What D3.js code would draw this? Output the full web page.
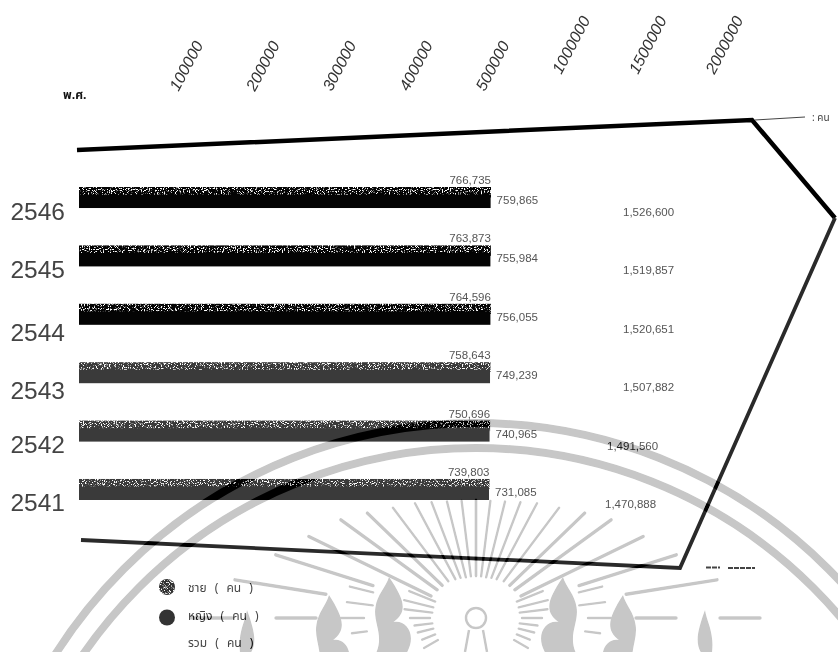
<!DOCTYPE html>
<html>
<head>
<meta charset="utf-8">
<script src="https://cdn.jsdelivr.net/npm/d3@7"></script>
<style>
html, body { margin: 0; padding: 0; background: #fff; }
text { font-family: "Liberation Sans", Arial, sans-serif; }
.thai { font-family: "Noto Sans Thai", "Noto Sans", "DejaVu Sans", sans-serif; }
</style>
</head>
<body>
<svg id="chart" width="838" height="652"></svg>
<script>
// values, top row first
const years = ["2546", "2545", "2544", "2543", "2542", "2541"];
const male = [766735, 763873, 764596, 758643, 750696, 739803];
const female = [759865, 755984, 756055, 749239, 740965, 731085];
const total = [1526600, 1519857, 1520651, 1507882, 1491560, 1470888];
const axisLabels = ["100000", "200000", "300000", "400000", "500000", "1000000", "1500000", "2000000"];
const legendLabels = ["ชาย ( คน )", "หญิง ( คน )", "รวม ( คน )"];

// year labels are not quite level with their bars in the original
const yearNudge = [14, 14, 19, 18, 14, 14];

const svg = d3.select("#chart");
const defs = svg.append("defs");

// speckled fill for the male bars
const speckle = defs.append("filter").attr("id", "speckle")
    .attr("x", 0).attr("y", 0).attr("width", 1).attr("height", 1)
    .attr("color-interpolation-filters", "sRGB");
speckle.append("feTurbulence")
    .attr("type", "fractalNoise").attr("baseFrequency", 0.85)
    .attr("numOctaves", 2).attr("seed", 4).attr("result", "noise");
speckle.append("feColorMatrix").attr("in", "noise").attr("type", "matrix")
    .attr("values", "0 0 0 0 0  0 0 0 0 0  0 0 0 0 0  9 0 0 0 -3.1").attr("result", "holes");
speckle.append("feComposite")
    .attr("in", "SourceGraphic").attr("in2", "holes").attr("operator", "in").attr("result", "dots");
speckle.append("feGaussianBlur").attr("in", "dots").attr("stdDeviation", 0.35);

// background seal, used twice: once under the chart, once burned over it.
// everything is currentColor so the two copies can differ
const seal = defs.append("g").attr("id", "seal");
const cx = 476, cy = 618;

seal.append("circle").attr("cx", cx).attr("cy", 921).attr("r", 498)
    .attr("fill", "none").attr("stroke", "currentColor").attr("stroke-width", 8);
seal.append("circle").attr("cx", cx).attr("cy", 925).attr("r", 477)
    .attr("fill", "none").attr("stroke", "currentColor").attr("stroke-width", 8);

// [angle from straight up, inner radius, outer radius]
const rays = [
    [0, 42, 118], [7, 42, 118], [14, 42, 120], [21, 43, 124], [28, 44, 130], [37, 46, 138],
    [46, 47, 151], [54, 48, 167], [64, 50, 186], [72.5, 108, 210], [81, 152, 244],
    [68, 44, 72], [76, 44, 74], [83, 44, 72], [90, 46, 66], [97, 44, 62], [104, 44, 60],
    [112, 44, 58], [120, 44, 60],
    [76, 106, 130], [83, 104, 130], [90, 112, 135], [90, 160, 200], [90, 244, 284], [97, 110, 125]
];
[1, -1].forEach(side => {
    seal.append("g").selectAll("line").data(rays).join("line")
        .attr("x1", d => cx + side * d[1] * Math.sin(d[0] * Math.PI / 180))
        .attr("y1", d => cy - d[1] * Math.cos(d[0] * Math.PI / 180))
        .attr("x2", d => cx + side * d[2] * Math.sin(d[0] * Math.PI / 180))
        .attr("y2", d => cy - d[2] * Math.cos(d[0] * Math.PI / 180))
        .attr("stroke", "currentColor").attr("stroke-linecap", "round")
        .attr("stroke-width", d => d[2] > 150 ? 3.4 : 2.4);

    // flames either side of the sun
    const flame = (dx, top, w) => `M${cx + side * dx},${top}
        C${cx + side * (dx - w)},${top + 22} ${cx + side * (dx - w * 1.3)},${top + 34} ${cx + side * (dx - w * 0.3)},${top + 45}
        C${cx + side * (dx - w * 1.2)},${top + 42} ${cx + side * (dx - w * 2)},${top + 60} ${cx + side * (dx - w)},${top + 80}
        L${cx + side * (dx + w)},${top + 80}
        C${cx + side * (dx + w * 0.2)},${top + 60} ${cx + side * (dx + w * 1.1)},${top + 46} ${cx + side * (dx + w * 0.9)},${top + 30}
        C${cx + side * (dx + w * 0.8)},${top + 18} ${cx + side * (dx + w * 0.2)},${top + 10} ${cx + side * dx},${top} Z`;
    seal.append("path").attr("d", flame(87, 577, 15)).attr("fill", "currentColor");
    seal.append("path").attr("d", flame(147, 595, 14)).attr("fill", "currentColor");
    seal.append("path").attr("d", flame(229, 610, 8)).attr("fill", "currentColor");
});
seal.append("circle").attr("cx", cx).attr("cy", cy).attr("r", 10)
    .attr("fill", "none").attr("stroke", "currentColor").attr("stroke-width", 2.5);
seal.append("path").attr("d", `M${cx - 7},630 L${cx - 11},652 M${cx + 7},630 L${cx + 11},652`)
    .attr("fill", "none").attr("stroke", "currentColor").attr("stroke-width", 2.5);

svg.append("use").attr("href", "#seal").style("color", "#d5d5d5");

// the printed bars all stop about the same place, so the scale is bent to that
const x = d3.scaleLinear().domain([0, 731085, 766735]).range([79, 489, 491]);
const y = d3.scaleBand().domain(years).range([187, 500]).paddingInner(0.64);
const totalX = d3.scaleLinear().domain([1470888, 1491560, 1507882, 1526600]).range([605, 607, 623, 623]);
const barColor = d => +d > 2543 ? "#040404" : "#3a3a3a";

const rows = years.map((year, i) => ({ year, male: male[i], female: female[i], total: total[i], nudge: yearNudge[i] }));
const fmt = d3.format(",");

// frame
const frame = d3.line();
svg.append("path").attr("d", frame([[77, 150], [752, 120], [835, 218]]))
    .attr("fill", "none").attr("stroke", "#000").attr("stroke-width", 4.5);
svg.append("path").attr("d", frame([[835, 218], [680, 568], [81, 540]]))
    .attr("fill", "none").attr("stroke", "#2a2a2a").attr("stroke-width", 3.8);
svg.append("path").attr("d", frame([[755, 120], [805, 117]]))
    .attr("fill", "none").attr("stroke", "#444").attr("stroke-width", 1);

// bars: the male speckle only shows along the top, the rest is covered by female
svg.append("g").selectAll("rect").data(rows).join("rect")
    .attr("x", x(0))
    .attr("y", d => y(d.year))
    .attr("width", d => x(d.male) - x(0))
    .attr("height", y.bandwidth() * 0.5)
    .attr("fill", d => barColor(d.year))
    .attr("filter", "url(#speckle)");
svg.append("g").selectAll("rect").data(rows).join("rect")
    .attr("x", x(0))
    .attr("y", d => y(d.year) + y.bandwidth() * 0.36)
    .attr("width", d => x(d.female) - x(0))
    .attr("height", y.bandwidth() * 0.64)
    .attr("fill", d => barColor(d.year));

// value labels
const labelColor = "#555";
svg.append("g").selectAll("text").data(rows).join("text")
    .attr("x", d => x(d.male)).attr("y", d => y(d.year) - 3)
    .attr("text-anchor", "end").attr("font-size", 11.5).attr("fill", labelColor)
    .text(d => fmt(d.male));
svg.append("g").selectAll("text").data(rows).join("text")
    .attr("x", d => x(d.female) + 6).attr("y", d => y(d.year) + 17)
    .attr("font-size", 11.5).attr("fill", labelColor)
    .text(d => fmt(d.female));
svg.append("g").selectAll("text").data(rows).join("text")
    .attr("x", d => totalX(d.total)).attr("y", d => y(d.year) + 29)
    .attr("font-size", 11.5).attr("fill", labelColor)
    .text(d => fmt(d.total));

// years
svg.append("g").selectAll("text").data(rows).join("text")
    .attr("x", 65).attr("y", d => y(d.year) + y.bandwidth() / 2 + d.nudge + 8)
    .attr("text-anchor", "end").attr("font-size", 24.5).attr("fill", "#444")
    .text(d => d.year);

// top axis, labels tilted
const axisX = d3.scalePoint().domain(axisLabels).range([178, 714]);
const axisG = svg.append("g").call(d3.axisTop(axisX).tickSize(0));
axisG.select(".domain").remove();
axisG.selectAll("text")
    .attr("font-size", 16).attr("fill", "#333").attr("font-style", "italic")
    .style("font-family", '"Liberation Sans", Arial, sans-serif')
    .attr("text-anchor", "start").attr("x", 0).attr("y", 0).attr("dy", 0)
    .attr("transform", d => `translate(0,${d.length > 6 ? 75 : 92}) rotate(-62)`);

svg.append("text").attr("class", "thai").attr("x", 63).attr("y", 99)
    .attr("font-size", 12).attr("font-weight", "bold").attr("fill", "#111").text("พ.ศ.");
svg.append("text").attr("class", "thai").attr("x", 812).attr("y", 121)
    .attr("font-size", 10).attr("fill", "#444").text(": คน");

// legend
const legendY = d3.scalePoint().domain(legendLabels).range([587, 642]);
svg.append("circle").attr("cx", 167).attr("cy", legendY(legendLabels[0])).attr("r", 8)
    .attr("fill", "#333").attr("filter", "url(#speckle)");
svg.append("circle").attr("cx", 167).attr("cy", legendY(legendLabels[1]) + 3).attr("r", 8)
    .attr("fill", "#333");
svg.append("g").selectAll("text").data(legendLabels).join("text")
    .attr("class", "thai").attr("x", 188).attr("y", d => legendY(d) + 5)
    .attr("font-size", 12).attr("fill", "#444").style("word-spacing", "5px")
    .text(d => d);

// unreadable scribble beside the frame corner in the scan
svg.append("path").attr("d", "M706,567.5 H720 M728,568 H755")
    .attr("fill", "none").attr("stroke", "#444").attr("stroke-width", 2)
    .attr("stroke-dasharray", "5 1");

// the seal again so the crossings go black like in the scan
svg.append("use").attr("href", "#seal").style("color", "#bfbfbf").style("mix-blend-mode", "color-burn");
</script>
</body>
</html>
